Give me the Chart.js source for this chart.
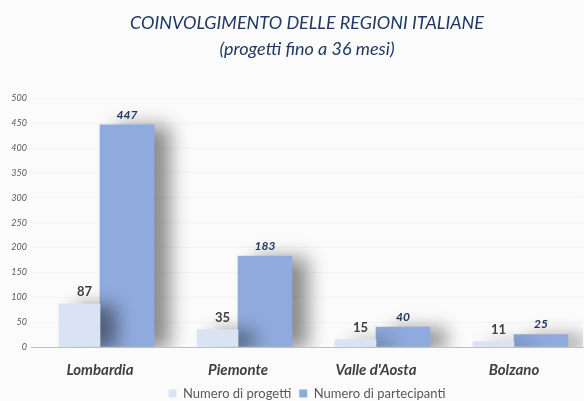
<!DOCTYPE html>
<html>
<head>
<meta charset="utf-8">
<script src="https://cdn.jsdelivr.net/npm/chart.js@4/dist/chart.umd.min.js"></script>
<style>
html,body{margin:0;padding:0;background:#fbfbfb;}
#wrap{width:584px;height:401px;}
</style>
</head>
<body>
<div id="wrap"><canvas id="c" width="584" height="401"></canvas></div>
<script>
const categories = ["Lombardia", "Piemonte", "Valle d'Aosta", "Bolzano"];
const progetti = [87, 35, 15, 11];
const partecipanti = [447, 183, 40, 25];
const seriesNames = ["Numero di progetti", "Numero di partecipanti"];
const titleLines = ["COINVOLGIMENTO DELLE REGIONI ITALIANE", "(progetti fino a 36 mesi)"];
const yTicks = [0, 50, 100, 150, 200, 250, 300, 350, 400, 450, 500];

const FONT = "Lato, 'Open Sans', sans-serif";

const shadowPlugin = {
  id: 'barShadow',
  beforeDatasetDraw(chart, args) {
    const ctx = chart.ctx;
    ctx.save();
    ctx.shadowColor = 'rgba(0,0,0,0.45)';
    ctx.shadowBlur = 18;
    ctx.shadowOffsetX = 16;
    ctx.shadowOffsetY = 2;
  },
  afterDatasetDraw(chart) {
    chart.ctx.restore();
  }
};

const labelPlugin = {
  id: 'valueLabels',
  afterDatasetsDraw(chart) {
    const ctx = chart.ctx;
    chart.data.datasets.forEach((ds, di) => {
      const meta = chart.getDatasetMeta(di);
      meta.data.forEach((bar, i) => {
        ctx.save();
        ctx.textAlign = 'center';
        ctx.textBaseline = 'bottom';
        if (di === 0) {
          ctx.font = "bold 13px " + FONT;
          ctx.fillStyle = '#404040';
          ctx.fillText(String(ds.data[i]), bar.x + 5, bar.y - 5);
        } else {
          ctx.font = "italic bold 12px " + FONT;
          ctx.fillStyle = '#1F3864';
          ctx.fillText(String(ds.data[i]), bar.x, bar.y - 4);
        }
        ctx.restore();
      });
    });
  }
};

new Chart(document.getElementById('c'), {
  type: 'bar',
  data: {
    labels: categories,
    datasets: [
      { label: seriesNames[0], data: progetti, backgroundColor: '#DAE3F3', barThickness: 41 },
      { label: seriesNames[1], data: partecipanti, backgroundColor: '#8FAADC', barThickness: 54 }
    ]
  },
  options: {
    responsive: false,
    animation: false,
    layout: { padding: { left: 0, right: 1, top: 0, bottom: -9 } },
    plugins: {
      title: {
        display: true,
        fullSize: false,
        text: titleLines,
        color: '#1F3864',
        font: { family: FONT, size: 18, style: 'italic', weight: 'normal', lineHeight: 1.4 },
        padding: { top: 11, bottom: 37 }
      },
      legend: {
        position: 'bottom',
        fullSize: false,
        labels: {
          color: '#595959',
          font: { family: FONT, size: 13 },
          boxWidth: 8, boxHeight: 8,
          padding: 8
        }
      },
      tooltip: { enabled: false }
    },
    scales: {
      x: {
        grid: { display: false },
        border: { display: true, color: '#BFBFBF', width: 1 },
        ticks: { color: '#404040', font: { family: FONT, size: 15, style: 'italic', weight: 'bold' }, padding: 6 },
        afterFit(s) { s.height = 32; }
      },
      y: {
        min: 0, max: 500,
        afterBuildTicks(s) { s.ticks = yTicks.map(v => ({ value: v })); },
        grid: { color: '#F3F3F3', drawTicks: false },
        border: { display: false },
        ticks: { color: '#595959', font: { family: FONT, size: 9, style: 'italic' }, padding: 4 },
        afterFit(s) { s.width = 31; }
      }
    }
  },
  plugins: [shadowPlugin, labelPlugin]
});
</script>
</body>
</html>
